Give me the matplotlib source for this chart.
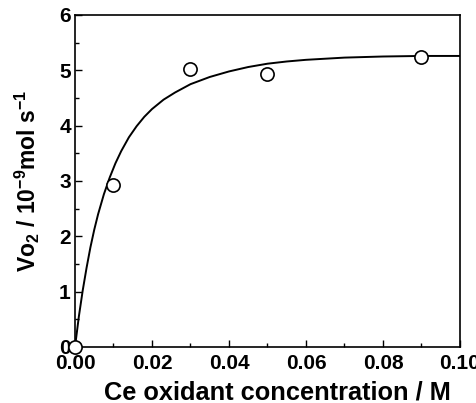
import matplotlib
matplotlib.use("Agg")
import matplotlib.pyplot as plt
from matplotlib.ticker import MultipleLocator

plt.rcParams["font.family"] = ["Liberation Sans", "DejaVu Sans"]
plt.rcParams["font.weight"] = "bold"
plt.rcParams["mathtext.default"] = "regular"

# measured points
conc = [0.0, 0.01, 0.03, 0.05, 0.09]
rate = [0.0, 2.92, 5.02, 4.93, 5.25]

# fitted curve
fit_x = [0.0, 0.001, 0.002, 0.003, 0.004, 0.005, 0.006, 0.0075, 0.009, 0.0105,
         0.012, 0.014, 0.016, 0.018, 0.02, 0.023, 0.026, 0.03, 0.035, 0.04,
         0.045, 0.05, 0.055, 0.06, 0.07, 0.08, 0.09, 0.1]
fit_y = [0.0, 0.55, 1.02, 1.43, 1.8, 2.12, 2.4, 2.76, 3.06, 3.32,
         3.54, 3.79, 3.99, 4.16, 4.3, 4.47, 4.6, 4.75, 4.88, 4.98,
         5.06, 5.12, 5.16, 5.19, 5.23, 5.25, 5.26, 5.26]

fig = plt.figure(figsize=(4.77, 4.03), dpi=100)
ax = fig.add_axes([75 / 477, 1 - 347 / 403, 385 / 477, 332 / 403])

ax.plot(fit_x, fit_y, color="black", linewidth=1.4)
ax.plot(conc, rate, "o", mfc="white", mec="black", ms=9.5, mew=1.2,
        clip_on=False, zorder=3)

ax.set_xlim(0, 0.1)
ax.set_ylim(0, 6)
ax.xaxis.set_major_locator(MultipleLocator(0.02))
ax.xaxis.set_minor_locator(MultipleLocator(0.01))
ax.yaxis.set_major_locator(MultipleLocator(1))
ax.yaxis.set_minor_locator(MultipleLocator(0.5))
ax.xaxis.set_major_formatter(lambda v, p: f"{v:.2f}")
ax.tick_params(which="both", direction="in", labelsize=15, width=1.0)
ax.tick_params(which="major", length=5)
ax.tick_params(which="minor", length=3)
ax.tick_params(axis="x", pad=5)
ax.tick_params(axis="y", pad=3)
for s in ax.spines.values():
    s.set_linewidth(1.2)

ax.set_xlabel("Ce oxidant concentration / M", fontsize=18.3, fontweight="bold")
ax.xaxis.set_label_coords(0.525, -0.1)
ax.set_ylabel("Vo$_2$ / 10$^{-9}$mol s$^{-1}$", fontsize=16.5, fontweight="bold", labelpad=12)

fig.savefig("out.png", dpi=100)
